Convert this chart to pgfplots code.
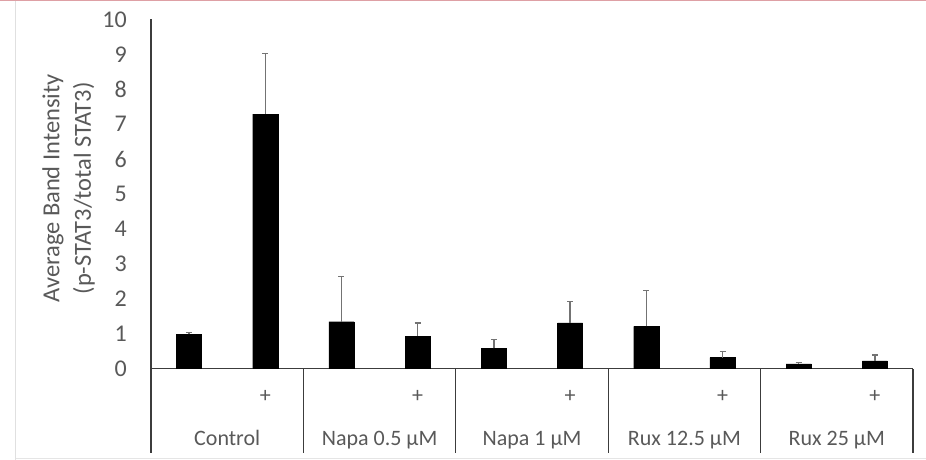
\documentclass[border=0pt]{standalone}
\usepackage{pgfplots}
\pgfplotsset{compat=1.18}
\usepackage{fontspec}
\setmainfont{Carlito}
\definecolor{txt}{RGB}{89,89,89}
\definecolor{errc}{RGB}{115,115,115}
\definecolor{axc}{RGB}{60,60,60}
\definecolor{pinkc}{RGB}{222,160,165}
\begin{document}
\begin{tikzpicture}[x=1pt,y=1pt]
\begin{axis}[
  scale only axis, width=762pt, height=349pt,
  xmin=-0.5, xmax=9.5, ymin=0, ymax=10,
  enlargelimits=false, clip=false,
  axis x line*=bottom, axis y line*=left,
  axis line style={axc, line width=1.3pt},
  /pgf/number format/assume math mode=true,
  ytick={0,1,...,10},
  yticklabel style={font=\fontsize{24}{28}\selectfont, text=txt, anchor=east, inner sep=0pt, xshift=-24pt},
  major tick length=0pt,
  minor tick length=84pt,
  tick align=outside,
  xtick={1,3,5,7,9},
  xticklabels={+,+,+,+,+},
  xticklabel style={font=\fontsize{22}{26}\selectfont, text=txt, anchor=center, inner sep=0pt, yshift=-28pt},
  minor xtick={-0.5,1.5,3.5,5.5,7.5,9.5},
  minor x tick style={axc, line width=1.3pt},
  extra x ticks={0.5,2.5,4.5,6.5,8.5},
  extra x tick labels={Control, Napa 0.5 µM, Napa 1 µM, Rux 12.5 µM, Rux 25 µM},
  extra x tick style={xticklabel style={anchor=base, yshift=-49pt}},
  ylabel={Average Band Intensity\\(p-STAT3/total STAT3)},
  ylabel style={at={(axis description cs:-0.108,0.516)}, anchor=center, align=center, font=\fontsize{24.5}{31.5}\selectfont, text=txt},
  ybar, bar width=0.33,
]
\addplot[ybar, fill=black, draw=black,
  error bars/.cd, y dir=plus, y explicit,
  error bar style={errc, line width=1.3pt},
  error mark options={errc, line width=1.3pt, mark size=3pt, rotate=90}]
coordinates {
 (0,0.98) +- (0,0.05)
 (1,7.29) +- (0,1.74)
 (2,1.34) +- (0,1.30)
 (3,0.93) +- (0,0.37)
 (4,0.58) +- (0,0.25)
 (5,1.31) +- (0,0.60)
 (6,1.21) +- (0,1.02)
 (7,0.31) +- (0,0.18)
 (8,0.13) +- (0,0.05)
 (9,0.22) +- (0,0.17)
};
\end{axis}
\pgfresetboundingbox
\useasboundingbox (-151,-91.5) rectangle (775,368.5);
\draw[pinkc, line width=1.5pt] (-151,367.8) -- (775,367.8);
\draw[black!12, line width=1pt] (-135,-91.5) -- (-135,367);
\draw[black!10, line width=1pt] (-135,-89.5) -- (775,-89.5);
\end{tikzpicture}
\end{document}
